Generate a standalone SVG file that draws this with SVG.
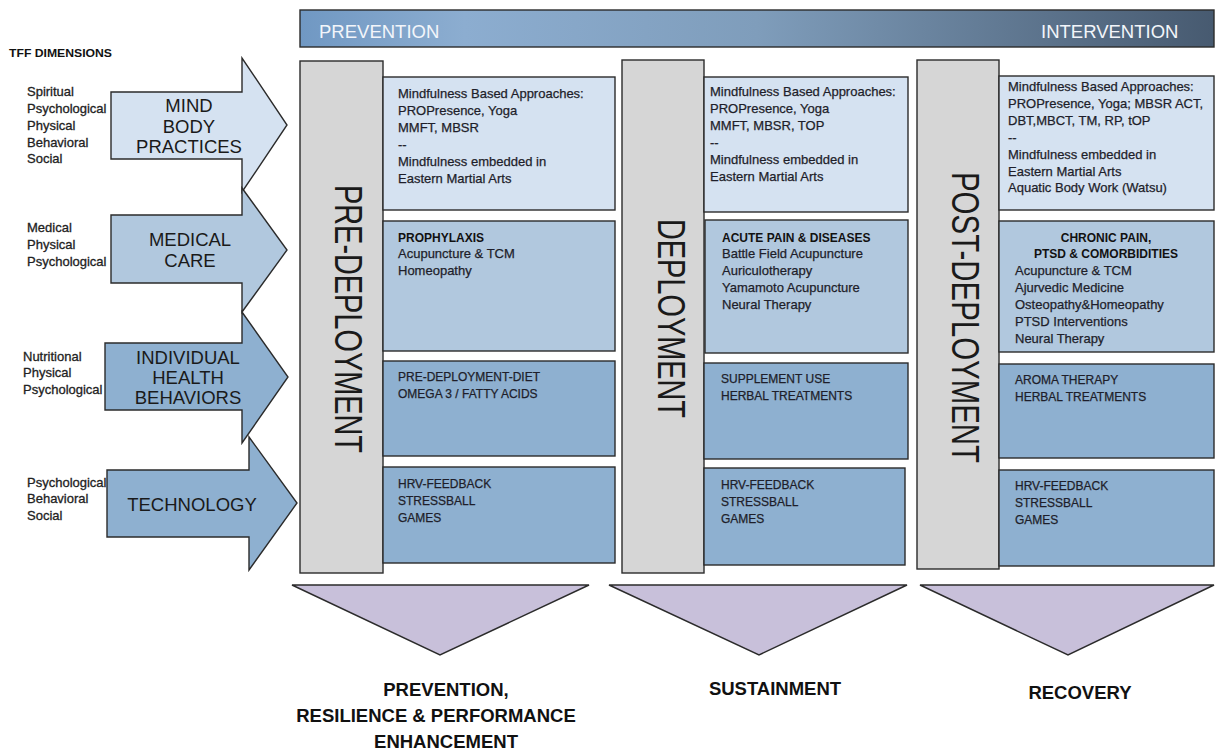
<svg xmlns="http://www.w3.org/2000/svg" width="1216" height="751" viewBox="0 0 1216 751">
<defs>
<linearGradient id="barGrad" x1="0" y1="0" x2="1" y2="0">
<stop offset="0" stop-color="#7098c3"/>
<stop offset="0.18" stop-color="#8cadd0"/>
<stop offset="0.5" stop-color="#7f9dbb"/>
<stop offset="1" stop-color="#475a70"/>
</linearGradient>
</defs>
<style>
.stk{stroke:#2b2b2b;stroke-width:1.4}
.l1{fill:#d5e2f1}
.l2{fill:#b1c8de}
.l3{fill:#8eb0d0}
.grey{fill:#d6d6d6}
.tri{fill:#c8c0da}
.dim{font-family:"Liberation Sans",Arial,sans-serif;font-size:13px;fill:#222;stroke:#222;stroke-width:0.3}
.arr{font-family:"Liberation Sans",Arial,sans-serif;font-size:18.5px;fill:#1a1a1a;text-anchor:middle}
.bt{font-family:"Liberation Sans",Arial,sans-serif;font-size:13px;fill:#1e1e2a;stroke:#1e1e2a;stroke-width:0.25}
.bc{font-family:"Liberation Sans",Arial,sans-serif;font-size:12px;fill:#1e1e2a;stroke:#1e1e2a;stroke-width:0.25}
.bb{font-family:"Liberation Sans",Arial,sans-serif;font-size:12px;font-weight:bold;fill:#111}
.vert{font-family:"Liberation Sans",Arial,sans-serif;font-size:38px;fill:#1a1a1a}
.bar{font-family:"Liberation Sans",Arial,sans-serif;font-size:18.5px;fill:#f2f5fa}
.out{font-family:"Liberation Sans",Arial,sans-serif;font-size:18.5px;font-weight:bold;fill:#111;text-anchor:middle}
</style>
<rect width="1216" height="751" fill="#ffffff"/>

<g id="header">
<rect x="300" y="10" width="914" height="37" fill="url(#barGrad)" class="stk"/>
<text class="bar" x="319" y="38">PREVENTION</text>
<text class="bar" x="1041" y="38">INTERVENTION</text>
</g>

<g id="tff-title">
<text x="9" y="57" font-family="Liberation Sans, Arial, sans-serif" font-size="11.8" font-weight="bold" fill="#111" textLength="103" lengthAdjust="spacingAndGlyphs">TFF DIMENSIONS</text>
</g>

<g id="dims-mind">
<text class="dim" x="27" y="96">Spiritual</text>
<text class="dim" x="27" y="113">Psychological</text>
<text class="dim" x="27" y="130">Physical</text>
<text class="dim" x="27" y="147">Behavioral</text>
<text class="dim" x="27" y="163">Social</text>
</g>
<g id="dims-medical">
<text class="dim" x="27" y="232">Medical</text>
<text class="dim" x="27" y="249">Physical</text>
<text class="dim" x="27" y="266">Psychological</text>
</g>
<g id="dims-health">
<text class="dim" x="23" y="361">Nutritional</text>
<text class="dim" x="23" y="377">Physical</text>
<text class="dim" x="23" y="394">Psychological</text>
</g>
<g id="dims-tech">
<text class="dim" x="27" y="487">Psychological</text>
<text class="dim" x="27" y="503">Behavioral</text>
<text class="dim" x="27" y="520">Social</text>
</g>

<g id="arrow-mind">
<path class="l1 stk" d="M111,92 H242 V58 L287,125 L242,192 V159 H111 Z"/>
<text class="arr" x="189" y="112">MIND</text>
<text class="arr" x="189" y="133">BODY</text>
<text class="arr" x="189" y="153">PRACTICES</text>
</g>
<g id="arrow-medical">
<path class="l2 stk" d="M111,215 H242 V188 L287,250 L242,312 V283 H111 Z"/>
<text class="arr" x="190" y="246">MEDICAL</text>
<text class="arr" x="190" y="267">CARE</text>
</g>
<g id="arrow-health">
<path class="l3 stk" d="M105,343 H242 V312 L288,377 L242,443 V410 H105 Z"/>
<text class="arr" x="188" y="364">INDIVIDUAL</text>
<text class="arr" x="188" y="384">HEALTH</text>
<text class="arr" x="188" y="404">BEHAVIORS</text>
</g>
<g id="arrow-tech">
<path class="l3 stk" d="M107,470 H249 V437 L297,503 L249,570 V537 H107 Z"/>
<text class="arr" x="192" y="511">TECHNOLOGY</text>
</g>

<g id="col-pre">
<rect class="grey stk" x="300" y="61" width="83" height="512"/>
<text class="vert" transform="translate(335,185) rotate(90)" textLength="268" lengthAdjust="spacingAndGlyphs">PRE-DEPLOYMENT</text>
</g>
<g id="pre-mind">
<rect class="l1 stk" x="383" y="77" width="232" height="133"/>
<text class="bt" x="398" y="98">Mindfulness Based Approaches:</text>
<text class="bt" x="398" y="115">PROPresence, Yoga</text>
<text class="bt" x="398" y="132">MMFT, MBSR</text>
<text class="bt" x="398" y="149">--</text>
<text class="bt" x="398" y="166">Mindfulness embedded in</text>
<text class="bt" x="398" y="183">Eastern Martial Arts</text>
</g>
<g id="pre-medical">
<rect class="l2 stk" x="383" y="221" width="232" height="130"/>
<text class="bb" x="398" y="242">PROPHYLAXIS</text>
<text class="bt" x="398" y="258">Acupuncture &amp; TCM</text>
<text class="bt" x="398" y="275">Homeopathy</text>
</g>
<g id="pre-health">
<rect class="l3 stk" x="383" y="361" width="232" height="95"/>
<text class="bc" x="398" y="381">PRE-DEPLOYMENT-DIET</text>
<text class="bc" x="398" y="398">OMEGA 3 / FATTY ACIDS</text>
</g>
<g id="pre-tech">
<rect class="l3 stk" x="383" y="467" width="232" height="96"/>
<text class="bc" x="398" y="488">HRV-FEEDBACK</text>
<text class="bc" x="398" y="505">STRESSBALL</text>
<text class="bc" x="398" y="522">GAMES</text>
</g>

<g id="col-dep">
<rect class="grey stk" x="622" y="60" width="82" height="513"/>
<text class="vert" transform="translate(658,219) rotate(90)" textLength="199" lengthAdjust="spacingAndGlyphs">DEPLOYMENT</text>
</g>
<g id="dep-mind">
<rect class="l1 stk" x="704" y="77" width="204" height="135"/>
<text class="bt" x="710" y="96">Mindfulness Based Approaches:</text>
<text class="bt" x="710" y="113">PROPresence, Yoga</text>
<text class="bt" x="710" y="130">MMFT, MBSR, TOP</text>
<text class="bt" x="710" y="147">--</text>
<text class="bt" x="710" y="164">Mindfulness embedded in</text>
<text class="bt" x="710" y="181">Eastern Martial Arts</text>
</g>
<g id="dep-medical">
<rect class="l2 stk" x="705" y="220" width="203" height="133"/>
<text class="bb" x="722" y="242">ACUTE PAIN &amp; DISEASES</text>
<text class="bt" x="722" y="258">Battle Field Acupuncture</text>
<text class="bt" x="722" y="275">Auriculotherapy</text>
<text class="bt" x="722" y="292">Yamamoto Acupuncture</text>
<text class="bt" x="722" y="309">Neural Therapy</text>
</g>
<g id="dep-health">
<rect class="l3 stk" x="704" y="363" width="204" height="96"/>
<text class="bc" x="721" y="383">SUPPLEMENT USE</text>
<text class="bc" x="721" y="400">HERBAL TREATMENTS</text>
</g>
<g id="dep-tech">
<rect class="l3 stk" x="704" y="468" width="201" height="97"/>
<text class="bc" x="721" y="489">HRV-FEEDBACK</text>
<text class="bc" x="721" y="506">STRESSBALL</text>
<text class="bc" x="721" y="523">GAMES</text>
</g>

<g id="col-post">
<rect class="grey stk" x="917" y="60" width="82" height="509"/>
<text class="vert" transform="translate(952,172) rotate(90)" textLength="291" lengthAdjust="spacingAndGlyphs">POST-DEPLOYMENT</text>
</g>
<g id="post-mind">
<rect class="l1 stk" x="999" y="76" width="215" height="134"/>
<text class="bt" x="1008" y="91">Mindfulness Based Approaches:</text>
<text class="bt" x="1008" y="108">PROPresence, Yoga; MBSR ACT,</text>
<text class="bt" x="1008" y="125">DBT,MBCT, TM, RP, tOP</text>
<text class="bt" x="1008" y="142">--</text>
<text class="bt" x="1008" y="159">Mindfulness embedded in</text>
<text class="bt" x="1008" y="176">Eastern Martial Arts</text>
<text class="bt" x="1008" y="192">Aquatic Body Work (Watsu)</text>
</g>
<g id="post-medical">
<rect class="l2 stk" x="999" y="221" width="215" height="131"/>
<text class="bb" x="1106" y="242" text-anchor="middle">CHRONIC PAIN,</text>
<text class="bb" x="1106" y="258" text-anchor="middle">PTSD &amp; COMORBIDITIES</text>
<text class="bt" x="1015" y="275">Acupuncture &amp; TCM</text>
<text class="bt" x="1015" y="292">Ajurvedic Medicine</text>
<text class="bt" x="1015" y="309">Osteopathy&amp;Homeopathy</text>
<text class="bt" x="1015" y="326">PTSD Interventions</text>
<text class="bt" x="1015" y="343">Neural Therapy</text>
</g>
<g id="post-health">
<rect class="l3 stk" x="999" y="364" width="215" height="94"/>
<text class="bc" x="1015" y="384">AROMA THERAPY</text>
<text class="bc" x="1015" y="401">HERBAL TREATMENTS</text>
</g>
<g id="post-tech">
<rect class="l3 stk" x="999" y="470" width="215" height="96"/>
<text class="bc" x="1015" y="490">HRV-FEEDBACK</text>
<text class="bc" x="1015" y="507">STRESSBALL</text>
<text class="bc" x="1015" y="524">GAMES</text>
</g>

<g id="outcome-pre">
<polygon class="tri stk" points="292,585 589,585 440,655"/>
<text class="out" x="446" y="696">PREVENTION,</text>
<text class="out" x="436" y="722">RESILIENCE &amp; PERFORMANCE</text>
<text class="out" x="446" y="748">ENHANCEMENT</text>
</g>
<g id="outcome-dep">
<polygon class="tri stk" points="609,585 907,585 759,655"/>
<text class="out" x="775" y="695">SUSTAINMENT</text>
</g>
<g id="outcome-post">
<polygon class="tri stk" points="920,585 1214,585 1068,655"/>
<text class="out" x="1080" y="699">RECOVERY</text>
</g>

<g id="connectors"></g>
</svg>
